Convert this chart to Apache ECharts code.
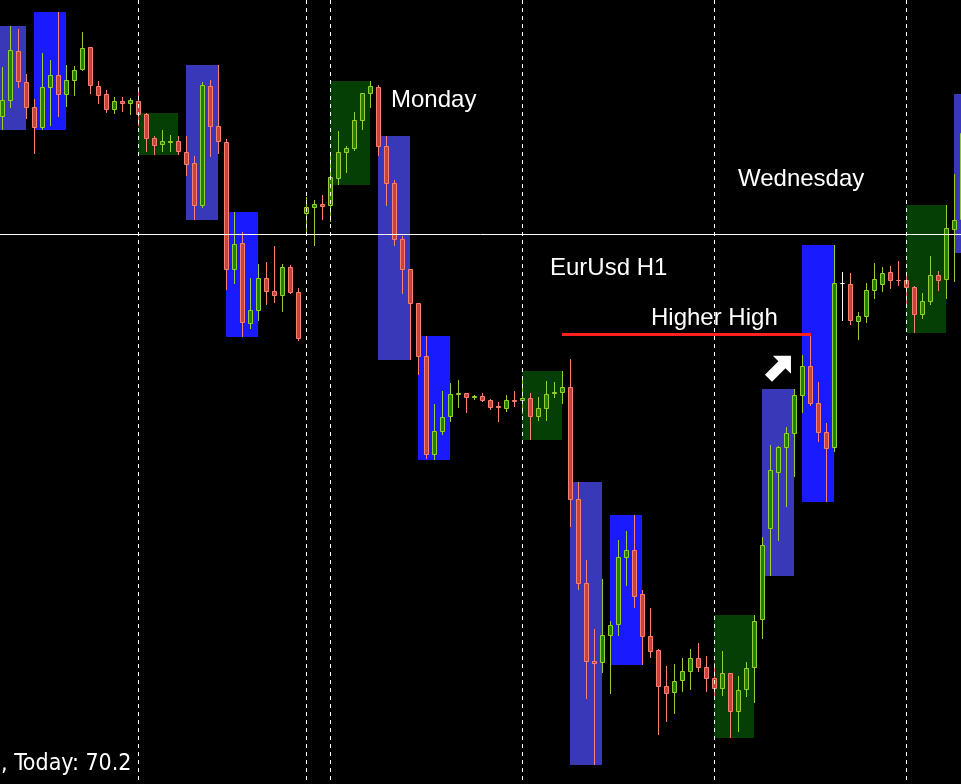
<!DOCTYPE html>
<html><head><meta charset="utf-8">
<style>html,body{margin:0;padding:0;background:#000;overflow:hidden}#c{width:961px;height:784px}</style>
<script src="https://cdn.jsdelivr.net/npm/echarts/dist/echarts.min.js"></script>
</head><body><div id="c"></div>
<script>
// EurUsd H1 candles, price levels (arbitrary units), index = bar number
const opens = [
883,899,949,918,893,872,912,925,905,919,
930,953,914,906,890,899,896,899,886,862,
855,857,859,848,837,794,914,874,858,730,
757,676,689,722,709,704,733,708,786,792,
796,794,821,847,851,879,906,913,854,817,
761,731,697,644,545,568,583,605,607,602,
604,600,594,591,600,599,602,583,591,606,
607,613,501,417,339,337,364,375,442,450,
406,364,350,314,307,319,328,342,333,322,
311,327,288,310,332,380,471,527,552,566,
604,634,597,568,552,717,716,678,683,709,
715,728,720.3,720,713,685,698,725,720,770,
780];
const highs = [
933,974,971,926,901,947,940,988,935,934,
968,953,919,910,903,903,902,913,887,864,
870,865,864,864,844,918,920,935,861,788,
768,722,736,738,754,736,735,712,803,800,
805,847,869,854,888,907,919,915,864,820,
764,731,697,664,596,609,617,620,607,605,
607,601,598,605,609,620,607,603,619,618,
629,641,518,440,371,421,379,460,469,485,
410,392,351,334,336,342,351,357,344,337,
349,327,324,338,385,463,555,554,573,611,
645,666,618,577,755,728,727,688,717,737,
733,734,739,727,714,707,744,729,795,826,
906];
const lows = [
870,892,912,881,846,870,874,883,893,904,
929,906,896,887,886,888,885,874,848,845,
848,848,845,824,780,792,843,846,710,716,
663,671,679,695,697,688,706,659,765,754,
780,778,815,827,849,870,892,844,794,754,
706,640,625,541,540,565,578,592,587,600,
598,590,578,588,593,586,560,579,579,602,
596,473,410,301,235,327,306,364,414,392,
335,342,265,278,286,308,310,328,308,304,
304,262,268,303,297,361,424,459,493,523,
587,594,558,498,548,679,675,660,677,701,
708,711,714,695,667,681,695,709,701,718,
747];
const closes = [
900,950,918,892,872,913,925,905,920,930,
952,914,904,890,899,896,900,885,861,854,
859,859,848,835,794,915,873,858,730,756,
677,690,722,708,704,733,707,661,793,796,
793,823,848,852,880,907,914,853,816,760,
730,696,643,545,569,583,606,607,602,604,
599,592,592,600,598,602,583,592,606,608,
613,500,416,338,336,365,375,443,450,403,
363,348,313,306,319,329,342,332,321,311,
327,288,310,332,379,455,530,553,567,605,
634,596,567,551,717,717,679,684,710,721,
727,719,720,712,685,699,725,719,772,780,
867];

// day separators (bar index) and session boxes [fromBar, toBar]
const dayLines = [17, 38, 41, 65, 89, 113];
const greenBoxes = [[17,22],[41,46],[65,70],[89,94],[113,118]];
const slateBoxes = [[-1,3],[23,27],[47,51],[71,75],[95,99],[119,123]];
const blueBoxes  = [[4,8],[28,32],[52,56],[76,80],[100,104]];
const refLevel = 766;          // horizontal white line
const hhFrom = 70, hhTo = 101; // "Higher High" line, at high of bar hhTo
const arrowAt = [97.15, 633];
const labels = ['Monday', 'Wednesday', 'EurUsd H1', 'Higher High', ', Today: 70.2'];

const BULL_LINE = '#9acd32', BULL_FILL = '#208000';
const BEAR_LINE = '#fa8072', BEAR_FILL = '#c4463a';
const DOJI = '#ffffff';
const BOX_COLORS = ['#063f06', '#3838b8', '#1a1aff'];

const N = opens.length;
const candleData = opens.map((o, i) => [i, o, highs[i], lows[i], closes[i]]);

function boxData(list, kind) {
  return list.map(([s, e]) => {
    let hi = -Infinity, lo = Infinity;
    for (let i = Math.max(s + 1, 0); i <= Math.min(e, N - 1); i++) {
      hi = Math.max(hi, highs[i]); lo = Math.min(lo, lows[i]);
    }
    return [s, hi, e, lo, kind];
  });
}
const boxes = [].concat(boxData(greenBoxes, 0), boxData(slateBoxes, 1), boxData(blueBoxes, 2));

const chart = echarts.init(document.getElementById('c'), null, {renderer: 'canvas'});

const LABEL_FONT = '24px "Liberation Sans", Arial, sans-serif';
function label(text, x, y, font) {
  return {type: 'text', x: x, y: y, z: 10,
          style: {text: text, fill: '#ffffff', font: font || LABEL_FONT, textVerticalAlign: 'middle', verticalAlign: 'middle'}};
}

const option = {
  backgroundColor: '#000000',
  animation: false,
  grid: {left: 0, right: 0, top: 0, bottom: 0},
  xAxis: {type: 'value', min: -0.3125, max: 119.8125, show: false},
  yAxis: {type: 'value', min: 216, max: 1000, show: false},
  series: [
    {
      type: 'custom', name: 'sessions', z: 1, clip: false,
      data: boxes,
      renderItem(params, api) {
        const p1 = api.coord([api.value(0), api.value(1)]);
        const p2 = api.coord([api.value(2), api.value(3)]);
        const x1 = Math.floor(p1[0]), x2 = Math.floor(p2[0]);
        const y1 = Math.round(p1[1]), y2 = Math.round(p2[1]);
        return {type: 'rect', shape: {x: x1, y: y1, width: x2 - x1, height: y2 - y1},
                style: {fill: BOX_COLORS[api.value(4)]}};
      }
    },
    {
      type: 'custom', name: 'EurUsd H1', z: 2,
      data: candleData,
      renderItem(params, api) {
        const k = api.value(0), o = api.value(1), h = api.value(2), l = api.value(3), c = api.value(4);
        const pO = api.coord([k, o]), pC = api.coord([k, c]);
        const pH = api.coord([k, h]), pL = api.coord([k, l]);
        const cx = Math.floor(pO[0]) + 0.5;
        const yTop = Math.round(Math.min(pO[1], pC[1]));
        const yBot = Math.round(Math.max(pO[1], pC[1]));
        const yH = Math.round(pH[1]), yL = Math.round(pL[1]);
        const bull = c > o, bear = c < o;
        const stroke = bull ? BULL_LINE : (bear ? BEAR_LINE : DOJI);
        const fill = bull ? BULL_FILL : (bear ? BEAR_FILL : DOJI);
        return {type: 'group', children: [
          {type: 'line', shape: {x1: cx, y1: yH, x2: cx, y2: yL}, style: {stroke: stroke, lineWidth: 1}},
          {type: 'rect', shape: {x: cx - 2, y: yTop + 0.5, width: 4, height: Math.max(yBot - yTop - 1, 0)},
           style: {fill: fill, stroke: stroke, lineWidth: 1}}
        ]};
      }
    },
    {
      type: 'custom', name: 'days', z: 3,
      data: dayLines.map(k => [k, 600]),
      renderItem(params, api) {
        const p = api.coord([api.value(0), api.value(1)]);
        const x = Math.floor(p[0]) + 0.5;
        const cs = params.coordSys;
        return {type: 'line', shape: {x1: x, y1: cs.y, x2: x, y2: cs.y + cs.height},
                style: {stroke: '#ffffff', lineWidth: 1, lineDash: [4, 4]}};
      }
    },
    {
      type: 'custom', name: 'level', z: 4,
      data: [[0, refLevel]],
      renderItem(params, api) {
        const p = api.coord([api.value(0), api.value(1)]);
        const y = Math.round(p[1]) + 0.5;
        const cs = params.coordSys;
        return {type: 'line', shape: {x1: cs.x, y1: y, x2: cs.x + cs.width, y2: y},
                style: {stroke: '#ffffff', lineWidth: 1}};
      }
    },
    {
      type: 'custom', name: 'higherHigh', z: 5,
      data: [[hhFrom, highs[hhTo], hhTo]],
      renderItem(params, api) {
        const p1 = api.coord([api.value(0), api.value(1)]);
        const p2 = api.coord([api.value(2), api.value(1)]);
        const y = Math.round(p1[1]) + 0.5;
        return {type: 'line', shape: {x1: Math.floor(p1[0]), y1: y, x2: Math.floor(p2[0]) + 1, y2: y},
                style: {stroke: '#ff2020', lineWidth: 3}};
      }
    },
    {
      type: 'scatter', name: 'arrow', z: 6,
      data: [arrowAt],
      symbol: 'path://M0 0L12.75 12.75L5 12.75L5 31.8L-5 31.8L-5 12.75L-12.75 12.75Z',
      symbolSize: [25.5, 31.8],
      symbolRotate: -45,
      itemStyle: {color: '#ffffff', opacity: 1},
      silent: true
    }
  ],
  graphic: [
    label(labels[0], 391, 100.5),
    label(labels[1], 738, 179),
    label(labels[2], 550, 268.5),
    label(labels[3], 651, 318.5),
    label(labels[4], 1, 764, '23px "DejaVu Sans Condensed", "Noto Sans", sans-serif')
  ]
};
chart.setOption(option);
</script>
</body></html>
